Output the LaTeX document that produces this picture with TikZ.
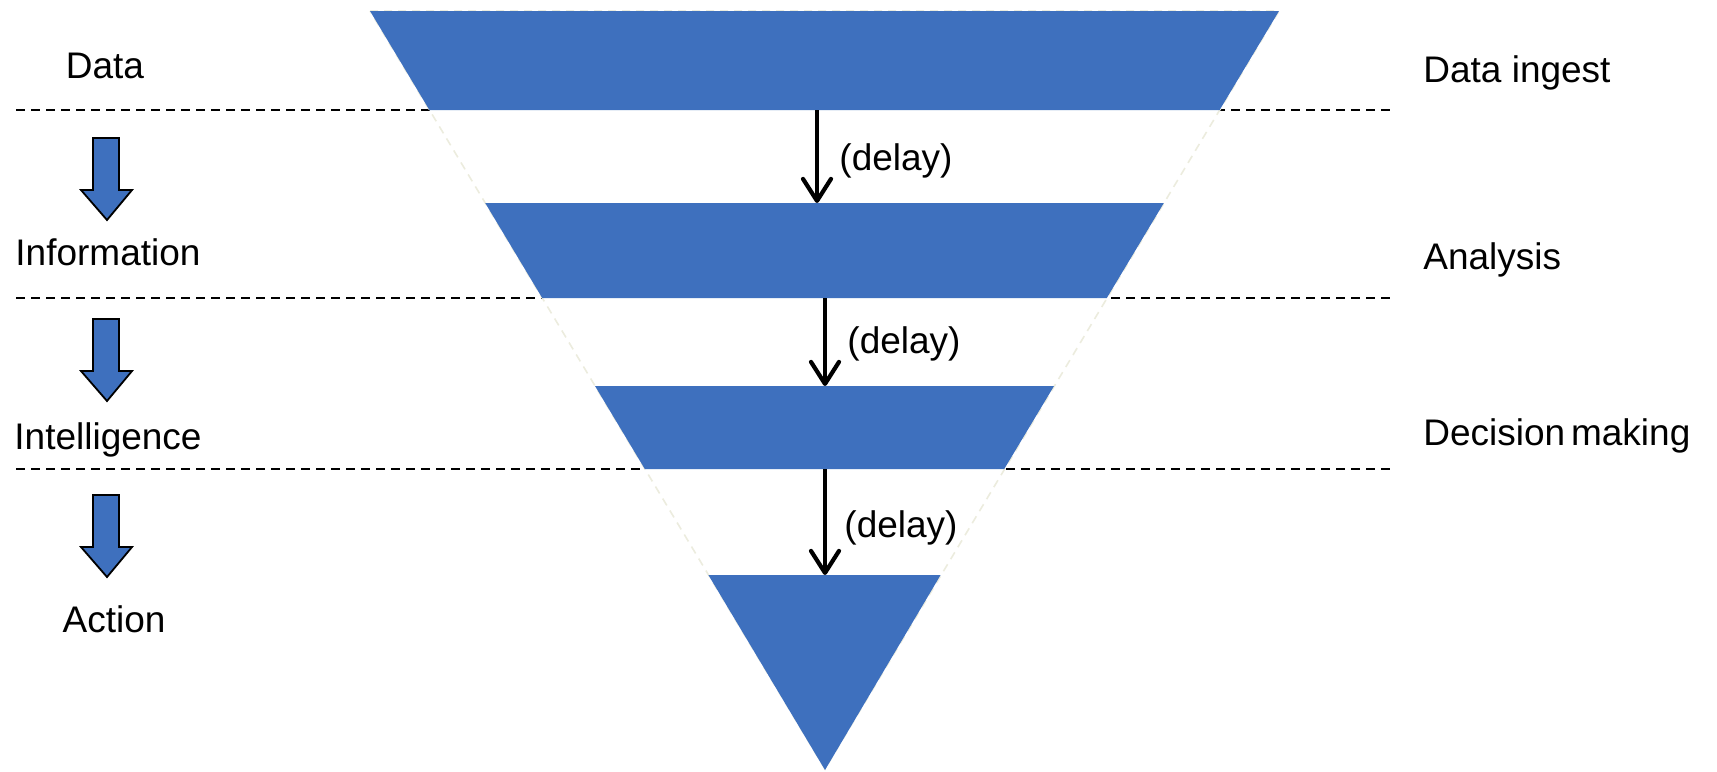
\documentclass[tikz,border=0pt]{standalone}
\usepackage{fontspec}
\setmainfont{Liberation Sans}
\usetikzlibrary{arrows.meta}
\definecolor{funnelblue}{RGB}{62,112,190}
\definecolor{edgefaint}{RGB}{236,236,222}

\begin{document}
\begin{tikzpicture}[x=0.5pt,y=-0.5pt,
  lbl/.style={font=\fontsize{18.5}{22}\selectfont, inner sep=0pt},
  band/.style={fill=funnelblue, draw=none},
  sep/.style={draw=black, line width=1pt, dash pattern=on 4.5pt off 3pt},
  delayarrow/.style={line width=2.1pt, -{Straight Barb[length=11pt,width=14pt,round]}},
  blockarrow/.style={fill=funnelblue, draw=black, line width=0.9pt, line join=miter}
]
\useasboundingbox (0,0) rectangle (1717,771);

% stage separators
\foreach \y in {110,298,469} \draw[sep] (16,\y) -- (1393,\y);

% funnel outline (white body with a faint dashed edge)
\draw[fill=white, draw=edgefaint, line width=0.8pt, dash pattern=on 4pt off 3pt]
  (370,11) -- (1279,11) -- (825,769) -- cycle;

% funnel bands
\fill[band] (370,11) -- (1279,11) -- (1219.6,110) -- (429.4,110) -- cycle;
\fill[band] (485.2,203) -- (1163.8,203) -- (1106.8,298) -- (542.2,298) -- cycle;
\fill[band] (595,386) -- (1054,386) -- (1004.2,469) -- (644.8,469) -- cycle;
\fill[band] (708.4,575) -- (940.6,575) -- (825,770) -- cycle;

% arrow end points on the bands
\coordinate (b1s) at (817,110);
\coordinate (b2n) at (817,203);
\coordinate (b2s) at (825,298);
\coordinate (b3n) at (825,386);
\coordinate (b3s) at (825,469);
\coordinate (b4n) at (825,575);

\draw[delayarrow] (b1s) -- (b2n);
\draw[delayarrow] (b2s) -- (b3n);
\draw[delayarrow] (b3s) -- (b4n);

\node[lbl] (d1) at (896,161) {(delay)};
\node[lbl] (d2) at (904,344) {(delay)};
\node[lbl] (d3) at (901,528) {(delay)};

% left column: stages
\node[lbl] (data)  at (105,66)  {Data};
\node[lbl] (info)  at (108,252) {Information};
\node[lbl] (intel) at (108,440) {Intelligence};
\node[lbl] (act)   at (114,619) {Action};

\foreach \t in {138,319,495}
  \draw[blockarrow] (93,\t) -- (119,\t) -- (119,\t+52) -- (132,\t+52)
    -- (107,\t+82) -- (81,\t+52) -- (93,\t+52) -- cycle;

% right column: processes
\node[lbl, anchor=west] (ingest)   at (1423,73)  {Data ingest};
\node[lbl, anchor=west] (analysis) at (1423,260) {Analysis};
\node[lbl, anchor=west] (decision) at (1423,436) {Decision\hspace{-0.12em} making};
\end{tikzpicture}
\end{document}
